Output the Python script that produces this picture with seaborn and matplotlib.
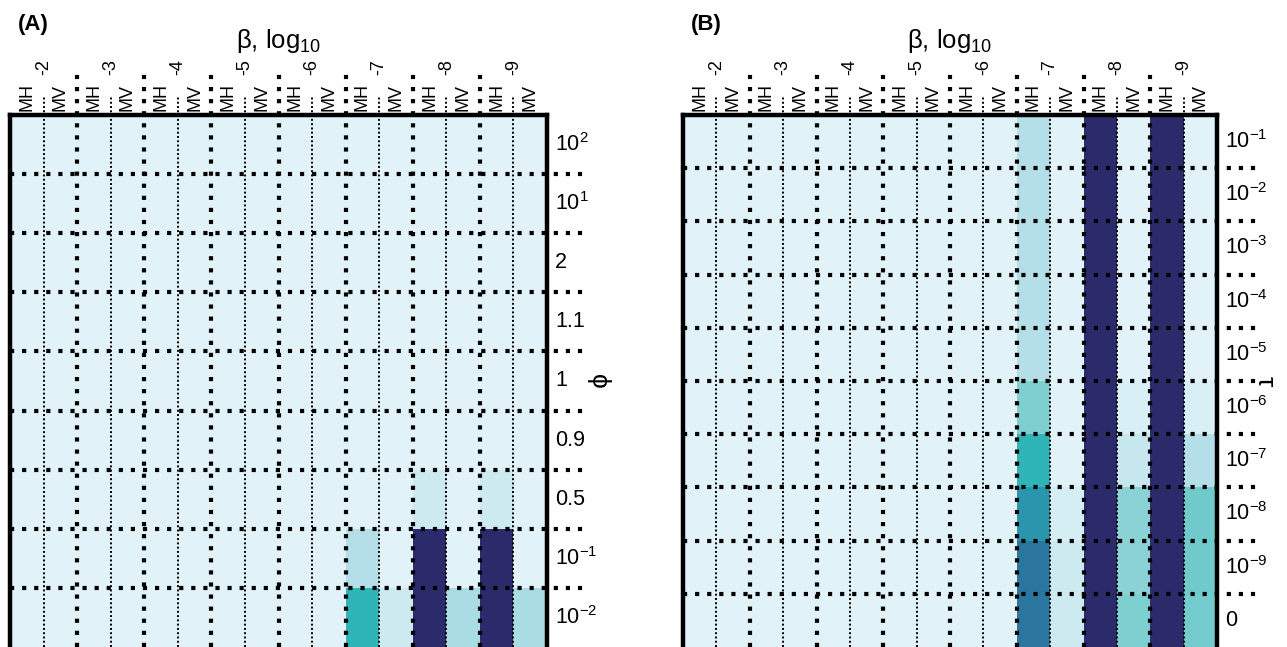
import numpy as np
import pandas as pd
import matplotlib
matplotlib.use("Agg")
import matplotlib.pyplot as plt
import seaborn as sns
from matplotlib.colors import LinearSegmentedColormap

sns.set_style("white")
plt.rcParams['font.family'] = ['Liberation Sans', 'DejaVu Sans']
plt.rcParams['text.color'] = 'black'
plt.rcParams['mathtext.fontset'] = 'custom'
plt.rcParams['mathtext.rm'] = 'Liberation Sans'
plt.rcParams['mathtext.it'] = 'Liberation Sans:italic'
plt.rcParams['mathtext.bf'] = 'Liberation Sans:bold'

# beta exponents (groups) and the two samplers in each group
betas = ["-2", "-3", "-4", "-5", "-6", "-7", "-8", "-9"]
samplers = ["MH", "MV"]
columns = [f"{s} {b}" for b in betas for s in samplers]

# panel A: rows are phi values
phi_labels = ["$10^{2}$", "$10^{1}$", "2", "1.1", "1", "0.9", "0.5", "$10^{-1}$", "$10^{-2}$"]
phi_mh7 = [0, 0, 0, 0, 0, 0, 0, 0.10, 0.40]
phi_mv7 = [0, 0, 0, 0, 0, 0, 0, 0, 0.05]
phi_mh8 = [0, 0, 0, 0, 0, 0, 0.05, 1.0, 1.0]
phi_mv8 = [0, 0, 0, 0, 0, 0, 0, 0, 0.13]
phi_mh9 = [0, 0, 0, 0, 0, 0, 0.05, 1.0, 1.0]
phi_mv9 = [0, 0, 0, 0, 0, 0, 0, 0, 0.13]

# panel B: rows are tau values
tau_labels = ["$10^{-1}$", "$10^{-2}$", "$10^{-3}$", "$10^{-4}$", "$10^{-5}$",
              "$10^{-6}$", "$10^{-7}$", "$10^{-8}$", "$10^{-9}$", "0"]
tau_mh7 = [0.10, 0.10, 0.10, 0.10, 0.10, 0.25, 0.40, 0.55, 0.70, 0.70]
tau_mv7 = [0, 0, 0, 0, 0, 0, 0, 0.03, 0.05, 0.05]
tau_mh8 = [1.0] * 10
tau_mv8 = [0, 0, 0, 0, 0, 0.02, 0.06, 0.22, 0.22, 0.25]
tau_mh9 = [1.0] * 10
tau_mv9 = [0, 0, 0, 0, 0, 0.02, 0.10, 0.28, 0.28, 0.27]


def build_frame(row_labels, mh7, mv7, mh8, mv8, mh9, mv9):
    df = pd.DataFrame(0.0, index=row_labels, columns=columns)
    df["MH -7"] = mh7
    df["MV -7"] = mv7
    df["MH -8"] = mh8
    df["MV -8"] = mv8
    df["MH -9"] = mh9
    df["MV -9"] = mv9
    return df


cmap = LinearSegmentedColormap.from_list("conv", [
    (0.0, "#e1f3f8"), (0.1, "#b4dfe8"), (0.25, "#7fcfd0"), (0.4, "#2fb5b8"),
    (0.55, "#2a96ad"), (0.7, "#2b769f"), (1.0, "#2b2a6b")])


def draw_panel(ax, df, tag, ylab, hext):
    nrow, ncol = df.shape
    sns.heatmap(df, ax=ax, cmap=cmap, vmin=0, vmax=1, cbar=False,
                xticklabels=False, yticklabels=False)
    ax.set_xlabel("")
    ax.set_ylabel("")

    # grid lines: thick dotted between groups/rows, thin dotted between MH and MV
    for c in range(1, ncol):
        if c % 2 == 0:
            ax.axvline(c, ymin=0, ymax=1.081, color="black", lw=3.0,
                       ls=(0, (1, 1.9)), clip_on=False)
        else:
            ax.axvline(c, ymin=0, ymax=1.035, color="black", lw=1.4,
                       ls=(0, (1, 1.2)), clip_on=False)
    for r in range(1, nrow):
        ax.axhline(r, xmin=0, xmax=hext, color="black", lw=3.0,
                   ls=(0, (1, 1.9)), clip_on=False)

    for side in ["top", "left", "right"]:
        ax.spines[side].set_visible(True)
        ax.spines[side].set_linewidth(3.2)
        ax.spines[side].set_color("black")
    ax.spines["bottom"].set_visible(False)

    # top labels
    for i, col in enumerate(df.columns):
        s = col.split()[0]
        ax.text(i + 0.5, 1.008, s, transform=ax.get_xaxis_transform(),
                rotation=90, ha="center", va="bottom", fontsize=13)
    for g, b in enumerate(betas):
        ax.text(2 * g + 1, 1.075, b, transform=ax.get_xaxis_transform(),
                rotation=90, ha="center", va="bottom", fontsize=13)
    ax.text(0.5, 1.14, r"β, log$_{10}$", transform=ax.transAxes,
            ha="center", va="center", fontsize=18.5)

    # right labels
    for j, lab in enumerate(df.index):
        ax.text(1.015, j + 0.5, lab, transform=ax.get_yaxis_transform(),
                ha="left", va="center", fontsize=15.5)
    ax.text(hext + 0.015, 0.5, ylab, transform=ax.transAxes, rotation=270,
            ha="center", va="center", fontsize=19)
    ax.text(0.015, 1.17, tag, transform=ax.transAxes, ha="left",
            va="center", fontsize=16, fontweight="bold")


df_a = build_frame(phi_labels, phi_mh7, phi_mv7, phi_mh8, phi_mv8, phi_mh9, phi_mv9)
df_b = build_frame(tau_labels, tau_mh7, tau_mv7, tau_mh8, tau_mv8, tau_mh9, tau_mv9)

fig = plt.figure(figsize=(12.87, 6.47), dpi=100)
ax_a = fig.add_axes([10 / 1287, 0.0, 537 / 1287, 532 / 647])
ax_b = fig.add_axes([683 / 1287, 0.0, 534 / 1287, 532 / 647])

draw_panel(ax_a, df_a, "(A)", "ϕ", 1.08)
draw_panel(ax_b, df_b, "(B)", "τ", 1.075)

fig.savefig("out.png", dpi=100)
